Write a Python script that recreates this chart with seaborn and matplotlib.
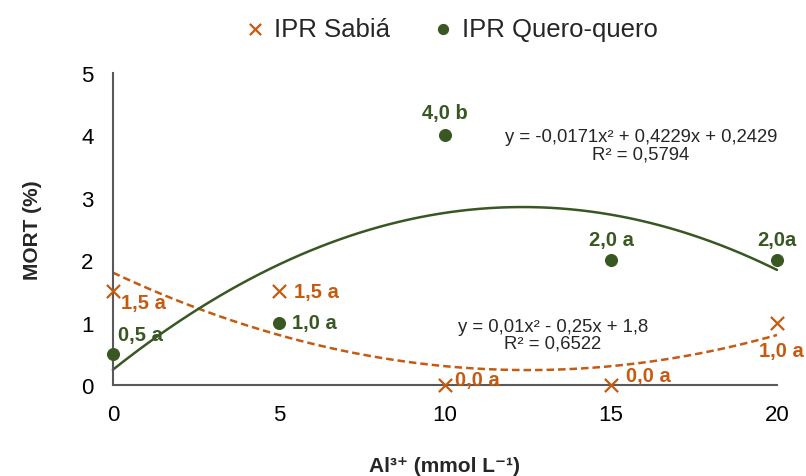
import numpy as np
import pandas as pd
import matplotlib.pyplot as plt
import seaborn as sns

# Al3+ doses and mortality (%) per cultivar
doses = [0, 5, 10, 15, 20]
sabia = [1.5, 1.5, 0.0, 0.0, 1.0]
quero = [0.5, 1.0, 4.0, 2.0, 2.0]
sabia_labels = ["1,5 a", "1,5 a", "0,0 a", "0,0 a", "1,0 a"]
quero_labels = ["0,5 a", "1,0 a", "4,0 b", "2,0 a", "2,0a"]
sabia_eq = "y = 0,01x² - 0,25x + 1,8\nR² = 0,6522"
quero_eq = "y = -0,0171x² + 0,4229x + 0,2429\nR² = 0,5794"

orange = "#C55A11"
green = "#385723"

sns.set_theme(style="white")
plt.rcParams["font.family"] = ["Liberation Sans", "DejaVu Sans"]

fig = plt.figure(figsize=(8.06, 4.77), dpi=100)
ax = fig.add_axes([0.140, 0.191, 0.824, 0.654])

df = pd.DataFrame({"dose": doses, "IPR Sabiá": sabia, "IPR Quero-quero": quero})

# quadratic trend lines, fitted like the spreadsheet trendline
xs = np.linspace(0, 20, 200)
fit_s = np.polyval(np.polyfit(doses, sabia, 2), xs)
fit_q = np.polyval(np.polyfit(doses, quero, 2), xs)
sns.lineplot(x=xs, y=fit_s, ax=ax, color=orange, lw=1.8, linestyle=(0, (3, 1.6)), clip_on=False)
sns.lineplot(x=xs, y=fit_q, ax=ax, color=green, lw=1.8, clip_on=False)

sns.scatterplot(data=df, x="dose", y="IPR Sabiá", ax=ax, marker="x", s=90, color=orange,
                linewidth=1.6, clip_on=False, zorder=5, label="IPR Sabiá")
sns.scatterplot(data=df, x="dose", y="IPR Quero-quero", ax=ax, marker="o", s=75, color=green,
                edgecolor=green, clip_on=False, zorder=5, label="IPR Quero-quero")

# value labels (offsets in points)
s_off = [(6, -8), (11, 0), (7, 4), (11, 6.5), (3.5, -20)]
s_ha = ["left", "left", "left", "left", "center"]
for x, y, t, o, ha in zip(doses, sabia, sabia_labels, s_off, s_ha):
    ax.annotate(t, (x, y), xytext=o, textcoords="offset points", ha=ha, va="center",
                color=orange, fontsize=14.5, fontweight="bold", annotation_clip=False)
q_off = [(3.5, 14), (9.5, 0), (0, 16.5), (0, 15), (0, 15)]
q_ha = ["left", "left", "center", "center", "center"]
for x, y, t, o, ha in zip(doses, quero, quero_labels, q_off, q_ha):
    ax.annotate(t, (x, y), xytext=o, textcoords="offset points", ha=ha, va="center",
                color=green, fontsize=14.5, fontweight="bold", annotation_clip=False)

ax.text(15.9, 3.84, quero_eq, ha="center", va="center", fontsize=13.3, color="#262626",
        linespacing=1.0)
ax.text(13.25, 0.8, sabia_eq, ha="center", va="center", fontsize=13.3, color="#262626",
        linespacing=1.0)

ax.set_xlim(0, 20)
ax.set_ylim(0, 5)
ax.set_xticks(doses)
ax.set_yticks(range(6))
ax.tick_params(axis="x", labelsize=16, colors="#000000", length=0, pad=14)
ax.tick_params(axis="y", labelsize=16, colors="#000000", length=0, pad=14)
for side in ["top", "right"]:
    ax.spines[side].set_visible(False)
for side in ["left", "bottom"]:
    ax.spines[side].set_color("#595959")
    ax.spines[side].set_linewidth(1.5)

ax.set_ylabel("MORT (%)", fontsize=15, fontweight="bold", labelpad=28)
ax.set_xlabel("Al³⁺ (mmol L⁻¹)", fontsize=15, fontweight="bold", labelpad=22)

handles, labels = ax.get_legend_handles_labels()
ax.legend_.remove()
fig.legend(handles, labels, loc="center", bbox_to_anchor=(0.556, 0.937), ncol=2, frameon=False,
           fontsize=18.5, handletextpad=0.1, columnspacing=1.4, markerscale=0.85, handlelength=1.3)

fig.savefig("out.png", dpi=100)
